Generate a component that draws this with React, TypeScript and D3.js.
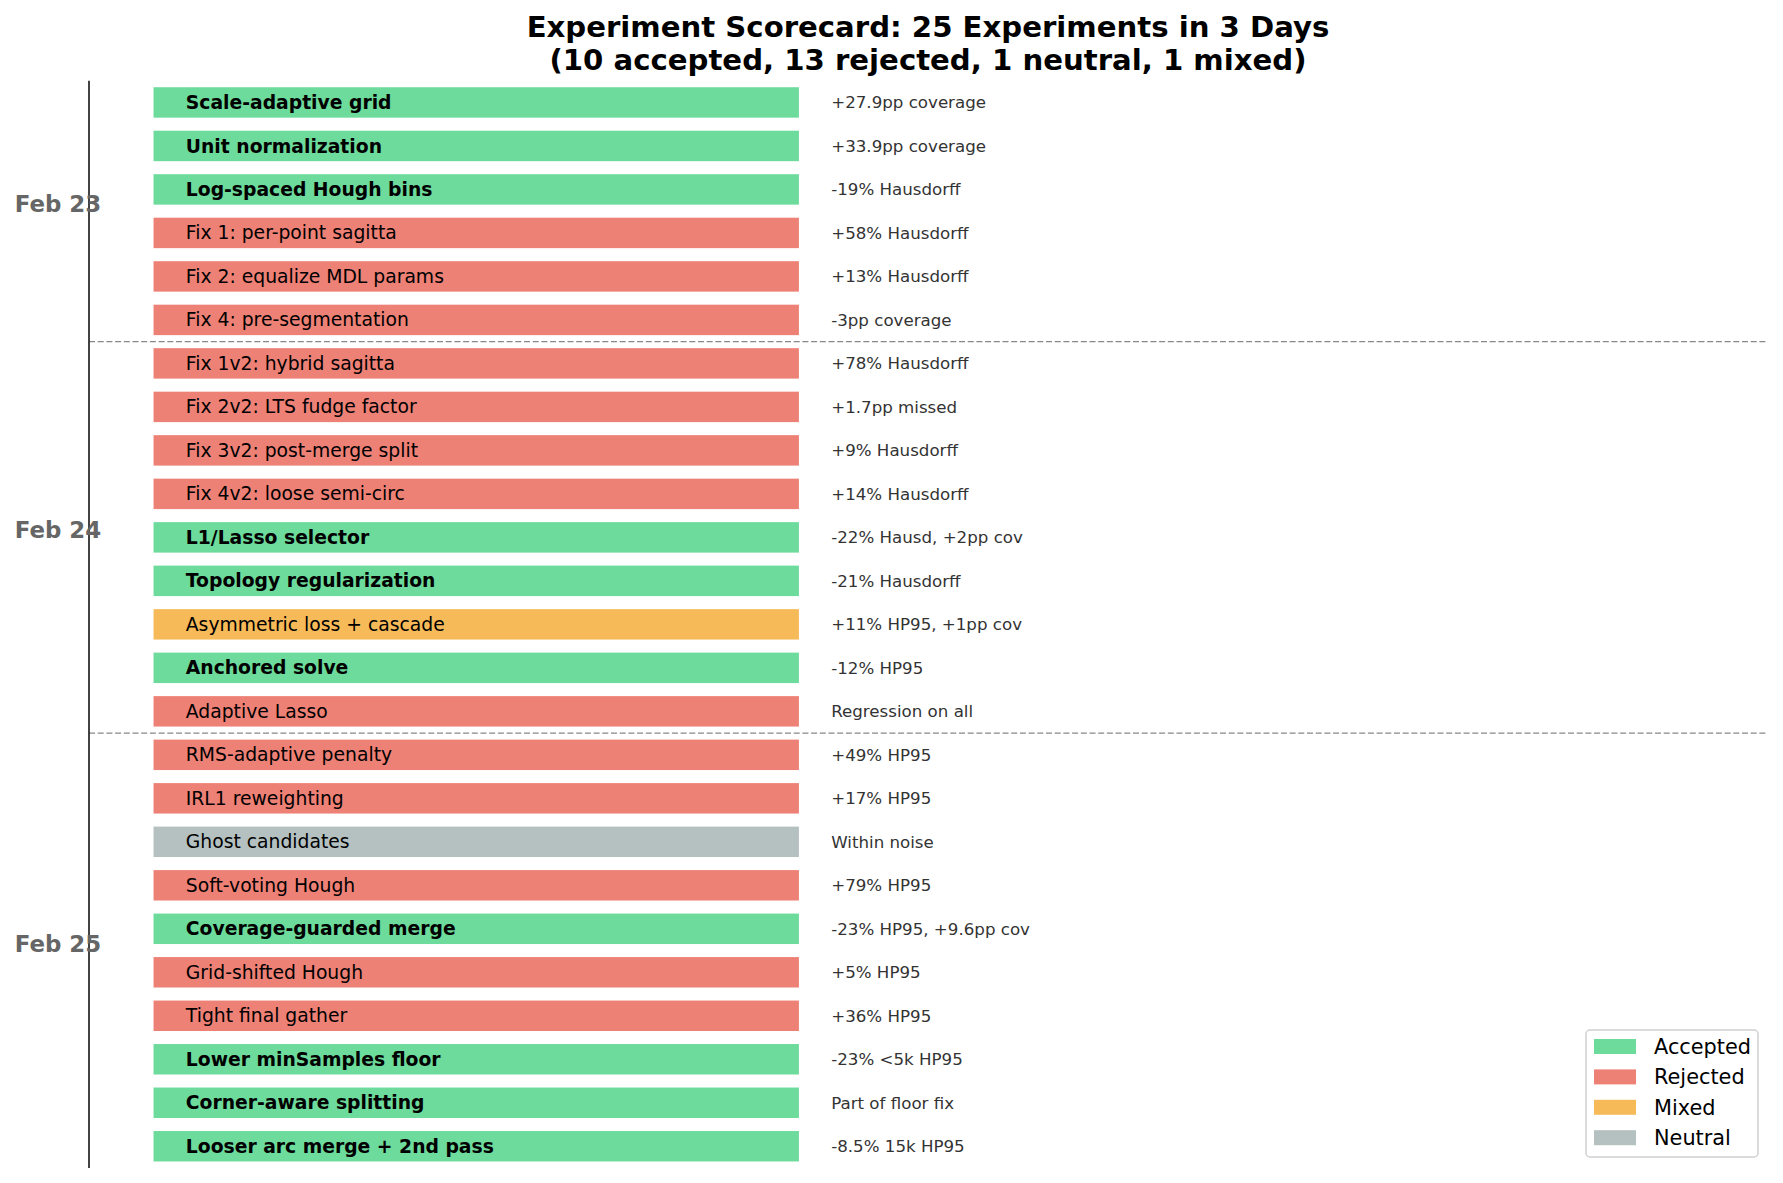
import React, { useEffect, useRef } from 'react';
import * as d3 from 'd3';

// experiments, top to bottom
const experiments = [
  'Scale-adaptive grid',
  'Unit normalization',
  'Log-spaced Hough bins',
  'Fix 1: per-point sagitta',
  'Fix 2: equalize MDL params',
  'Fix 4: pre-segmentation',
  'Fix 1v2: hybrid sagitta',
  'Fix 2v2: LTS fudge factor',
  'Fix 3v2: post-merge split',
  'Fix 4v2: loose semi-circ',
  'L1/Lasso selector',
  'Topology regularization',
  'Asymmetric loss + cascade',
  'Anchored solve',
  'Adaptive Lasso',
  'RMS-adaptive penalty',
  'IRL1 reweighting',
  'Ghost candidates',
  'Soft-voting Hough',
  'Coverage-guarded merge',
  'Grid-shifted Hough',
  'Tight final gather',
  'Lower minSamples floor',
  'Corner-aware splitting',
  'Looser arc merge + 2nd pass',
];

const outcomes = [
  'accepted', 'accepted', 'accepted', 'rejected', 'rejected', 'rejected',
  'rejected', 'rejected', 'rejected', 'rejected', 'accepted', 'accepted',
  'mixed', 'accepted', 'rejected',
  'rejected', 'rejected', 'neutral', 'rejected', 'accepted', 'rejected',
  'rejected', 'accepted', 'accepted', 'accepted',
];

const results = [
  '+27.9pp coverage',
  '+33.9pp coverage',
  '-19% Hausdorff',
  '+58% Hausdorff',
  '+13% Hausdorff',
  '-3pp coverage',
  '+78% Hausdorff',
  '+1.7pp missed',
  '+9% Hausdorff',
  '+14% Hausdorff',
  '-22% Hausd, +2pp cov',
  '-21% Hausdorff',
  '+11% HP95, +1pp cov',
  '-12% HP95',
  'Regression on all',
  '+49% HP95',
  '+17% HP95',
  'Within noise',
  '+79% HP95',
  '-23% HP95, +9.6pp cov',
  '+5% HP95',
  '+36% HP95',
  '-23% <5k HP95',
  'Part of floor fix',
  '-8.5% 15k HP95',
];

const days = ['Feb 23', 'Feb 24', 'Feb 25'];
const dayStart = [0, 6, 15];
const dayEnd = [5, 14, 24];

const legendKeys = ['accepted', 'rejected', 'mixed', 'neutral'];
const legendLabels = ['Accepted', 'Rejected', 'Mixed', 'Neutral'];

const colors: Record<string, string> = {
  accepted: '#2ecc71',
  rejected: '#e74c3c',
  mixed: '#f39c12',
  neutral: '#95a5a6',
};

const W = 1783;
const H = 1183;
const FONT = "'DejaVu Sans', sans-serif";

const App: React.FC = () => {
  const svgRef = useRef<SVGSVGElement>(null);

  useEffect(() => {
    if (!svgRef.current) return;

    const svg = d3.select(svgRef.current);
    svg.selectAll('*').remove();

    const x = d3.scaleLinear().domain([-0.1, 2.5]).range([89, 1767]);
    const y = d3.scaleLinear().domain([-0.5, 24.5]).range([80.7, 1168]);

    // title
    const cx = (x(-0.1) + x(2.5)) / 2;
    const title = svg.append('text')
      .attr('text-anchor', 'middle')
      .style('font-family', FONT)
      .style('font-size', '29.17px')
      .style('font-weight', 'bold')
      .style('fill', '#000');
    title.append('tspan').attr('x', cx).attr('y', 36.5)
      .text('Experiment Scorecard: 25 Experiments in 3 Days');
    title.append('tspan').attr('x', cx).attr('y', 70)
      .text('(10 accepted, 13 rejected, 1 neutral, 1 mixed)');

    const g = svg.append('g');

    // bars
    g.selectAll('.bar')
      .data(experiments)
      .enter()
      .append('rect')
      .attr('class', 'bar')
      .attr('x', x(0))
      .attr('y', (_, i) => y(i - 0.35))
      .attr('width', x(1) - x(0))
      .attr('height', (_, i) => y(i + 0.35) - y(i - 0.35))
      .attr('fill', (_, i) => colors[outcomes[i]])
      .attr('fill-opacity', 0.7);

    // labels inside bars
    g.selectAll('.name')
      .data(experiments)
      .enter()
      .append('text')
      .attr('x', x(0.05))
      .attr('y', (_, i) => y(i))
      .attr('dy', '0.35em')
      .style('font-family', FONT)
      .style('font-size', '18.75px')
      .style('font-weight', (_, i) => (outcomes[i] === 'accepted' ? 'bold' : 'normal'))
      .style('fill', '#000')
      .text(d => d);

    // result notes
    g.selectAll('.note')
      .data(results)
      .enter()
      .append('text')
      .attr('x', x(1.05))
      .attr('y', (_, i) => y(i))
      .attr('dy', '0.35em')
      .style('font-family', FONT)
      .style('font-size', '16.67px')
      .style('fill', '#333')
      .text(d => d);

    // day separators
    dayEnd.slice(0, -1).forEach(e => {
      g.append('line')
        .attr('x1', x(-0.1))
        .attr('x2', x(2.5))
        .attr('y1', y(e + 0.5))
        .attr('y2', y(e + 0.5))
        .attr('stroke', '#888')
        .attr('stroke-width', 1.2)
        .attr('stroke-dasharray', '6,2.7');
    });

    // left spine
    g.append('line')
      .attr('x1', x(-0.1))
      .attr('x2', x(-0.1))
      .attr('y1', y(-0.5))
      .attr('y2', y(24.5))
      .attr('stroke', '#222')
      .attr('stroke-width', 1.7);

    // day labels
    days.forEach((d, i) => {
      g.append('text')
        .attr('x', x(-0.148))
        .attr('y', y((dayStart[i] + dayEnd[i]) / 2) + 1)
        .attr('text-anchor', 'middle')
        .style('font-family', FONT)
        .style('font-size', '22.9px')
        .style('font-weight', 'bold')
        .style('fill', '#666')
        .text(d);
    });

    // legend
    const legend = svg.append('g').attr('transform', 'translate(1586,1030)');
    legend.append('rect')
      .attr('x', 0)
      .attr('y', 0)
      .attr('width', 172)
      .attr('height', 127)
      .attr('rx', 4)
      .attr('fill', '#fff')
      .attr('fill-opacity', 0.8)
      .attr('stroke', '#d0d0d0')
      .attr('stroke-width', 1.5);

    legendKeys.forEach((k, i) => {
      const row = legend.append('g').attr('transform', `translate(0, ${16.5 + i * 30.4})`);
      row.append('rect')
        .attr('x', 8)
        .attr('y', -7.5)
        .attr('width', 42)
        .attr('height', 15)
        .attr('fill', colors[k])
        .attr('fill-opacity', 0.7);
      row.append('text')
        .attr('x', 68)
        .attr('y', 7.5)
        .style('font-family', FONT)
        .style('font-size', '20.83px')
        .style('fill', '#000')
        .text(legendLabels[i]);
    });
  }, []);

  return (
    <div style={{ position: 'absolute', left: 0, top: 0 }}>
      <svg ref={svgRef} width={W} height={H} style={{ display: 'block', background: '#fff' }} />
    </div>
  );
};

export default App;
